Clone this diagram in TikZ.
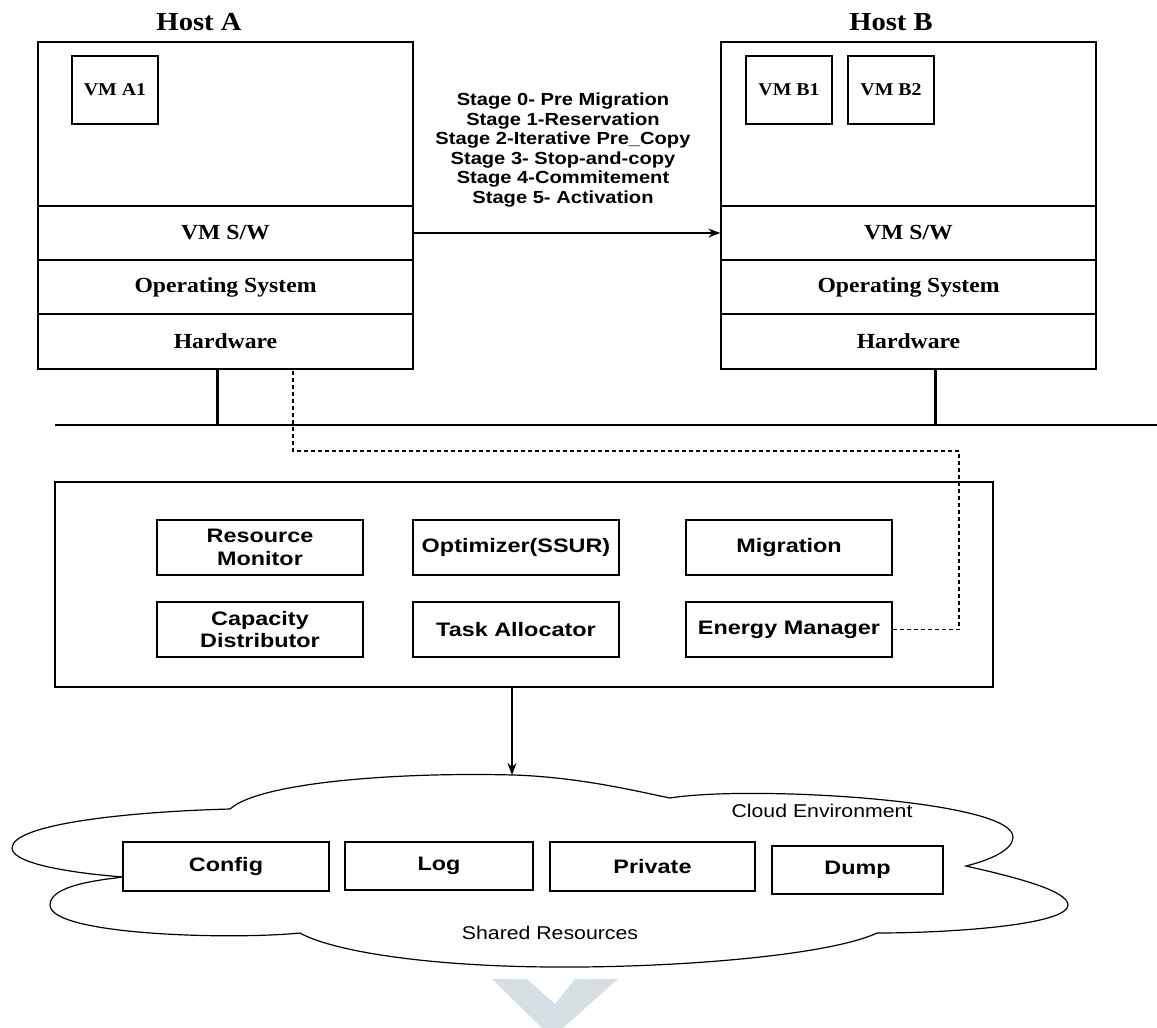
\documentclass[tikz,border=0pt]{standalone}
\usepackage{fontspec}
\setmainfont{Liberation Serif}[FakeStretch=1.1]
\newfontfamily\arialfam{Liberation Sans}[FakeStretch=1.15]
\newfontfamily\modfam{Liberation Sans}[FakeStretch=1.2]
\usetikzlibrary{arrows.meta}
\definecolor{wmark}{RGB}{214,224,228}
\tikzset{>={Stealth[length=12pt,width=9pt]},
  layer/.style={draw,line width=1.3pt,minimum width=375pt,minimum height=54pt,inner sep=0pt,
    font=\bfseries\fontsize{21.5}{25}\selectfont},
  vmbox/.style={draw,line width=1.3pt,minimum width=86pt,minimum height=68pt,inner sep=0pt,
    font=\bfseries\fontsize{18}{22}\selectfont},
  module/.style={draw,line width=1.2pt,fill=white,minimum width=206pt,minimum height=55pt,
    inner sep=0pt,align=center,font=\modfam\bfseries\fontsize{19.5}{22.7}\selectfont},
  title/.style={font=\bfseries\fontsize{26}{30}\selectfont},
  link/.style={line width=1.3pt},
  dashlink/.style={line width=1.2pt,dash pattern=on 4pt off 3pt}
}

\begin{document}
\begin{tikzpicture}[x=1pt,y=-1pt]
  \useasboundingbox (0,0) rectangle (1157,1028);
  % Host A
  \node[title] (titleA) at (199,22) {Host A};
  \node[layer,minimum height=164pt] (topA) at (225.5,124) {};
  \node[layer] (swA) at (225.5,233) {VM S/W};
  \node[layer] (osA) at (225.5,287) {Operating System};
  \node[layer,minimum height=55pt] (hwA) at (225.5,341.5) {Hardware};
  \node[vmbox] (vma1) at (115,90) {VM A1};
  % Host B
  \node[title] (titleB) at (891,22) {Host B};
  \node[layer,minimum height=164pt] (topB) at (908.5,124) {};
  \node[layer] (swB) at (908.5,233) {VM S/W};
  \node[layer] (osB) at (908.5,287) {Operating System};
  \node[layer,minimum height=55pt] (hwB) at (908.5,341.5) {Hardware};
  \node[vmbox] (vmb1) at (789,90) {VM B1};
  \node[vmbox] (vmb2) at (891,90) {VM B2};
  % migration stages
  \node[align=center,font=\arialfam\bfseries\fontsize{17.5}{19.6}\selectfont] (stages) at (563,150)
  {Stage 0- Pre Migration\\Stage 1-Reservation\\Stage 2-Iterative Pre\_Copy\\
   Stage 3- Stop-and-copy\\Stage 4-Commitement\\Stage 5- Activation};
  \draw[link,->] (swA.east) -- (swB.west);
  % network bus
  \coordinate (busL) at (55,425);
  \coordinate (busR) at (1157,425);
  \coordinate (tapA) at (217,425);
  \coordinate (tapB) at (935,425);
  \draw[line width=2.5pt] (busL) -- (busR);
  \draw[line width=3pt] (hwA.south -| tapA) -- (tapA);
  \draw[line width=3pt] (hwB.south -| tapB) -- (tapB);
  % manager
  \node[draw,line width=1.3pt,minimum width=938pt,minimum height=205pt] (mgr) at (524,584.5) {};
  \node[module] (resmon) at (260,547.5) {Resource\\Monitor};
  \node[module] (optim) at (516,547.5) {Optimizer(SSUR)};
  \node[module] (migr) at (789,547.5) {Migration};
  \node[module] (capdist) at (260,629.5) {Capacity\\Distributor};
  \node[module] (taskal) at (516,629.5) {Task Allocator};
  \node[module] (enm) at (789,629.5) {Energy Manager};
  \coordinate (dashA) at (293,369);
  \coordinate (dashcorner) at (959,451);
  \draw[dashlink] (enm.east) -| (dashcorner) -| (dashA);
  % cloud
  \draw[line width=1.2pt] (123,877) .. controls (60,872) and (12,862) .. (12,848)
    .. controls (12,825) and (120,812) .. (230,809)
    .. controls (260,782) and (400,772) .. (513,775)
    .. controls (580,777) and (640,792) .. (670,798)
    .. controls (750,785) and (1013,800) .. (1013,837)
    .. controls (1013,850) and (990,860) .. (966,866)
    .. controls (1010,876) and (1068,890) .. (1068,905)
    .. controls (1068,925) and (950,933) .. (877,933)
    .. controls (830,955) and (680,968) .. (550,967)
    .. controls (420,966) and (330,950) .. (300,933)
    .. controls (230,940) and (50,935) .. (50,905)
    .. controls (50,885) and (100,880) .. (123,877);
  \coordinate (cloudtop) at (512,775);
  \draw[link,->] (mgr.south -| cloudtop) -- (cloudtop);
  \node[font=\arialfam\fontsize{18.5}{22}\selectfont] (cloudenv) at (822,811) {Cloud Environment};
  \node[font=\arialfam\fontsize{18.5}{22}\selectfont] (shared) at (550,933) {Shared Resources};
  \node[module,minimum height=49pt] (config) at (226,866.5) {Config};
  \node[module,minimum width=188pt,minimum height=48pt] (log) at (439,866) {Log};
  \node[module,minimum width=205pt,minimum height=49pt] (private) at (652.5,866.5) {Private};
  \node[module,minimum width=171pt,minimum height=48pt] (dump) at (857.5,870) {Dump};
  % watermark
  \fill[wmark] (492,979) -- (527,979) -- (555,1004) -- (575,979) -- (618,979)
    -- (563,1028) -- (542,1028) -- cycle;
\end{tikzpicture}
\end{document}
